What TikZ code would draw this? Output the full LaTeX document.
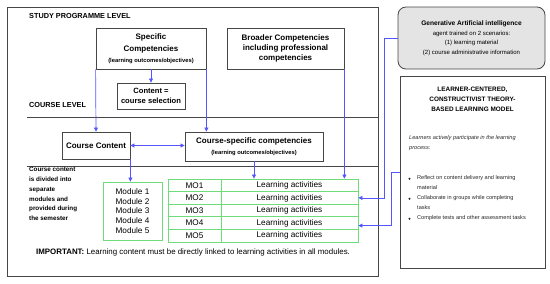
\documentclass[tikz,border=0pt]{standalone}
\usepackage{fontspec}
\setmainfont{Liberation Sans}
\usetikzlibrary{arrows.meta}
\definecolor{connc}{RGB}{85,85,255}
\definecolor{grn}{RGB}{110,220,120}
\definecolor{framec}{RGB}{70,70,70}
\definecolor{aifill}{RGB}{228,228,228}
\definecolor{txtg}{RGB}{40,40,40}
\newcommand\mybig{\fontsize{8}{10}\selectfont\bfseries}
\newcommand\mysml{\fontsize{5.8}{7}\selectfont\bfseries}
\begin{document}
\begin{tikzpicture}[x=1pt,y=-1pt,
  box/.style={draw=framec, line width=0.8pt, inner sep=0pt, align=center},
  gbox/.style={draw=grn, line width=0.8pt, inner sep=0pt, align=center},
  cline/.style={draw=connc, line width=0.7pt},
  arr/.style={cline, -{Triangle[width=4pt,length=4pt]}},
  darr/.style={cline, {Triangle[width=4pt,length=4pt]}-{Triangle[width=4pt,length=4pt]}},
  head/.style={font=\fontsize{7.3}{9}\selectfont\bfseries, inner sep=0pt},
  cell/.style={gbox, font=\fontsize{8.2}{9.8}\selectfont, minimum height=12.6pt},
  ltxt/.style={anchor=north west, align=left, inner sep=0pt, text=txtg, font=\fontsize{5.6}{10}\selectfont}
]
\useasboundingbox (0,0) rectangle (550,284);
% outer frame and level lines
\draw[draw=framec, line width=0.8pt] (7,7) rectangle (378,276);
\draw[draw=framec, line width=0.8pt] (27,117) -- (378,117);
\draw[draw=framec, line width=0.8pt] (27,166) -- (378,166);
\node[head, anchor=west] (spl) at (29,16) {STUDY PROGRAMME LEVEL};
\node[head, anchor=west] (cl) at (29,105) {COURSE LEVEL};

% study programme level boxes
\node[box, minimum width=110pt, minimum height=41pt] (spec) at (151,48.5)
  {{\mybig Specific}\\[-0.5pt]{\mybig Competencies}\\[-1pt]{\mysml (learning outcomes/objectives)}};
\node[box, minimum width=68pt, minimum height=26pt, font=\fontsize{7.6}{10}\selectfont\bfseries] (content) at (151,96)
  {Content =\\course selection};
\node[box, minimum width=117pt, minimum height=41pt, font=\fontsize{8}{10}\selectfont\bfseries] (broad) at (285.5,48.5)
  {Broader Competencies\\including professional\\competencies};

% course level boxes
\node[box, minimum width=68pt, minimum height=27pt, font=\fontsize{8}{10}\selectfont\bfseries] (cc) at (96,145.5)
  {Course Content};
\node[box, minimum width=138pt, minimum height=29pt] (cs) at (254,146.5)
  {{\mybig Course-specific competencies}\\[-1pt]{\mysml (learning outcomes/objectives)}};

% left explanatory text
\node[anchor=north west, align=left, inner sep=0pt, font=\fontsize{6.3}{9.8}\selectfont\bfseries] (expl) at (29,167)
  {Course content\\is divided into\\separate\\modules and\\provided during\\the semester};

% modules
\node[gbox, minimum width=59pt, minimum height=58pt, font=\fontsize{8.2}{9.8}\selectfont] (mod) at (132.5,211)
  {Module 1\\Module 2\\Module 3\\Module 4\\Module 5};

% table
\foreach \i in {1,...,5}{
  \node[cell, minimum width=53pt] (mo\i) at (194.5,{179+12.6*(\i-0.5)}) {MO\i};
  \node[cell, minimum width=137pt] (la\i) at (289.5,{179+12.6*(\i-0.5)}) {Learning activities};
}

\node[anchor=west, inner sep=0pt, font=\fontsize{7.9}{9}\selectfont] (imp) at (36,252)
  {\textbf{IMPORTANT:} Learning content must be directly linked to learning activities in all modules.};

% right side boxes
\node[box, fill=aifill, rounded corners=8pt, minimum width=147pt, minimum height=62pt,
  font=\fontsize{6}{9.5}\selectfont] (gen) at (471.5,38)
  {{\fontsize{6.6}{9.5}\selectfont\bfseries Generative Artificial intelligence}\\agent trained on 2 scenarios:\\(1) learning material\\(2) course administrative information};
\node[box, minimum width=145pt, minimum height=192pt] (learn) at (472.5,172) {};
\node[font=\fontsize{6.4}{10}\selectfont\bfseries, align=center, inner sep=0pt] (ltitle) at (472.5,99)
  {LEARNER-CENTERED,\\CONSTRUCTIVIST THEORY-\\BASED LEARNING MODEL};
\node[ltxt, font=\fontsize{5.6}{10}\selectfont\itshape] (lpart) at (409,135)
  {Learners actively participate in the learning\\process:};
\node[ltxt] (b1) at (417,175.5) {Reflect on content delivery and learning\\material};
\node[ltxt] (b2) at (417,195.5) {Collaborate in groups while completing\\tasks};
\node[ltxt] (b3) at (417,215.5) {Complete tests and other assessment tasks};
\foreach \b in {b1,b2,b3}{ \fill[txtg] ([xshift=-7.5pt,yshift=-3.2pt]\b.north west) circle (1.1pt); }

% connectors
\draw[arr] (spec.south) -- (content.north);
\draw[arr] (spec.south west) -- (cc.north);
\draw[arr] (spec.south east) -- (spec.south east |- cs.north);
\draw[arr] (broad.south east) -- (broad.south east |- la1.north);
\draw[darr] (cc.east) -- (cc.east -| cs.west);
\draw[arr] (cc.south east) -- (cc.south east |- mod.north);
\draw[arr] (cs.south) -- (cs.south |- la1.north);
\draw[arr] (gen.west) -- ++(-13,0) |- (la2.east);
\draw[arr] (learn.west) -- ++(-8,0) |- ([yshift=-2.5pt]la4.east);
\end{tikzpicture}
\end{document}
